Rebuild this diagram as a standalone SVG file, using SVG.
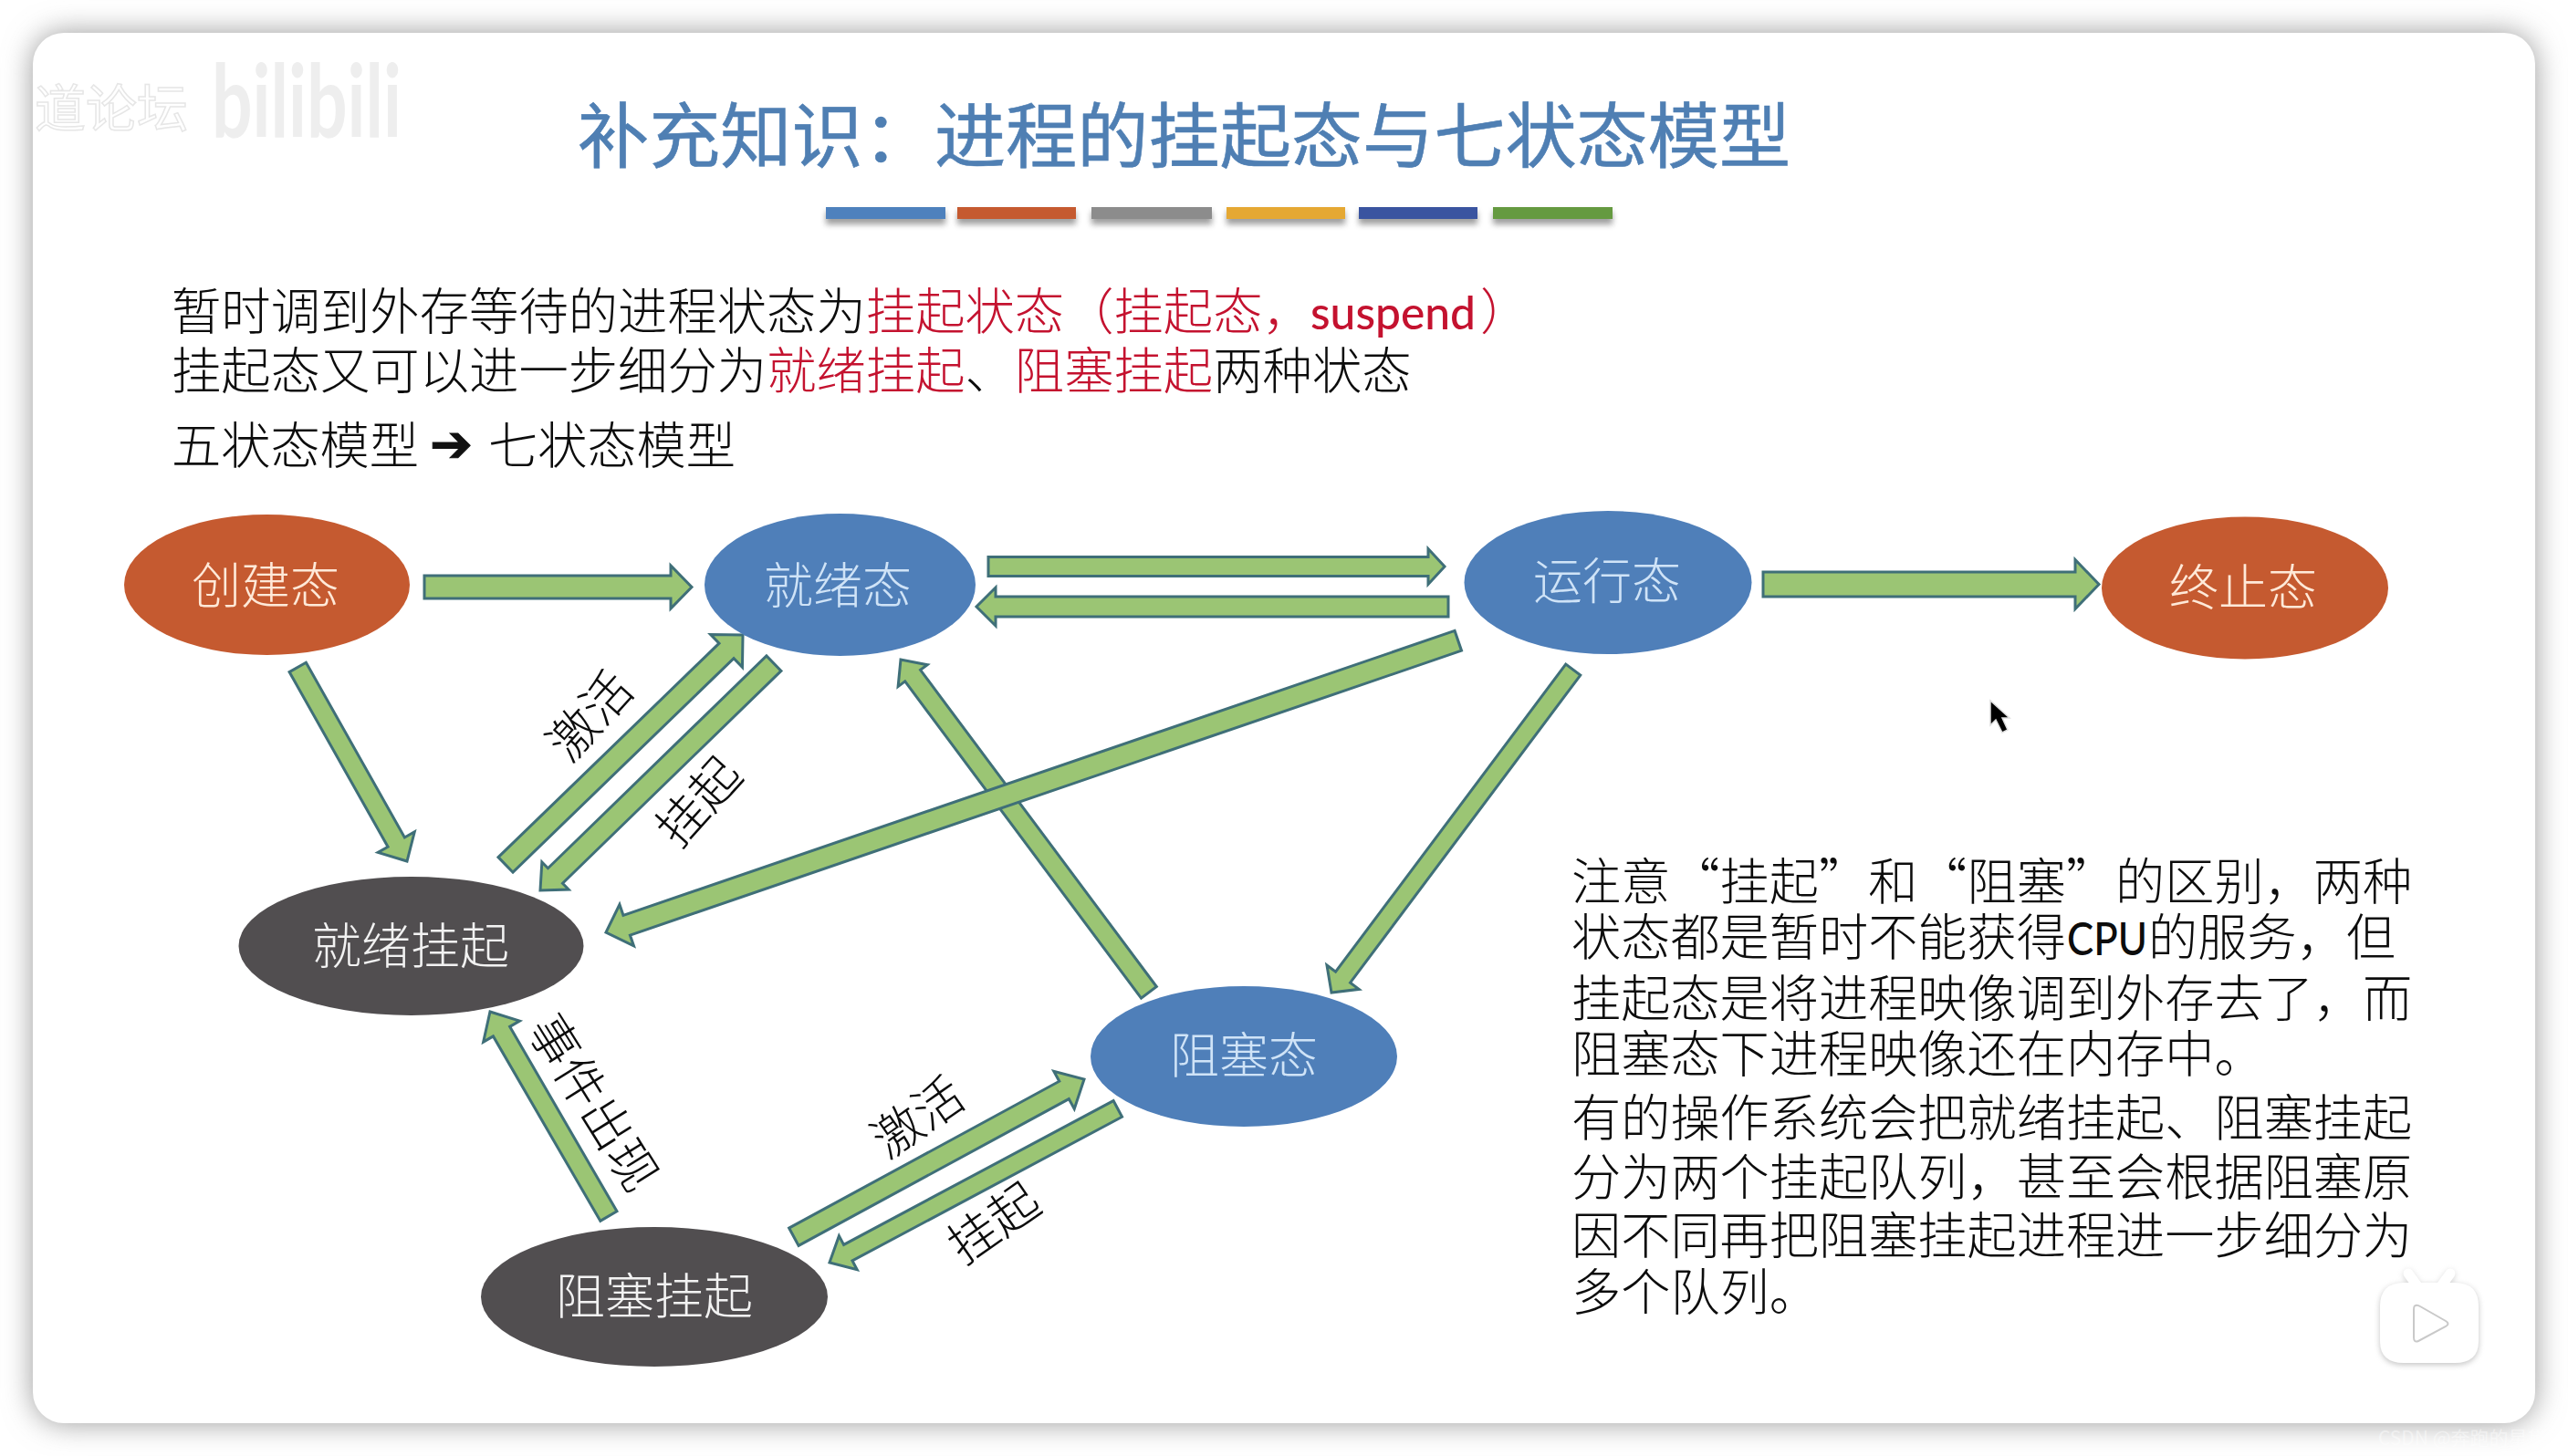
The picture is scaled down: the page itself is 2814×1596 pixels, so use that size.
<svg xmlns="http://www.w3.org/2000/svg" width="2814" height="1596" viewBox="0 0 2814 1596">
<style>
text{font-family:"Noto Sans CJK SC","Noto Sans",sans-serif}
.t{font-size:54.2px;fill:#0c0c0c;font-weight:300}
.r{fill:#c4122f}
.l{font-size:54px;text-anchor:middle;font-weight:300}
.lo{fill:#ffe9d8}
.lb{fill:#cfe3f7}
.ld{fill:#f2f2f2}
.a{fill:#9bc574;stroke:#3f6f78;stroke-width:3}
.e{font-size:54px;fill:#0c0c0c;text-anchor:middle;font-weight:300}
.lat{font-family:Lato,"Noto Sans",sans-serif}
</style>
<defs>
<filter id="card" x="-5%" y="-8%" width="110%" height="116%"><feGaussianBlur stdDeviation="16"/></filter>
<filter id="sh" x="-20%" y="-100%" width="140%" height="400%"><feGaussianBlur stdDeviation="3"/></filter>
<filter id="tv" x="-20%" y="-20%" width="140%" height="140%"><feGaussianBlur stdDeviation="3"/></filter>
</defs>
<rect width="2814" height="1596" fill="#fff"/>
<rect x="36" y="36" width="2742" height="1524" rx="34" fill="#9a9a9a" filter="url(#card)"/>
<rect x="36" y="36" width="2742" height="1524" rx="34" fill="#fff"/>
<text x="2606" y="1584" font-size="21" fill="#fff" fill-opacity=".45">CSDN @奔跑的星黛露</text>
<g id="watermark" fill="#eeeeee">
<text x="38" y="139" font-size="56" fill="#fff" stroke="#e6e6e6" stroke-width="1.5">道论坛</text>
<text x="232" y="151" font-size="112" font-weight="700" class="lat" textLength="208" lengthAdjust="spacingAndGlyphs">bilibili</text>
</g>
<g id="title">
<text x="633" y="178" font-size="78.2" fill="#4f7fb3" stroke="#4f7fb3" stroke-width=".6">补充知识：进程的挂起态与七状态模型</text>
<g filter="url(#sh)" fill="#777" opacity=".7">
<rect x="905" y="232" width="131" height="14"/><rect x="1049" y="232" width="130" height="14"/><rect x="1196" y="232" width="132" height="14"/><rect x="1344" y="232" width="130" height="14"/><rect x="1489" y="232" width="130" height="14"/><rect x="1636" y="232" width="131" height="14"/>
</g>
<rect x="905" y="227" width="131" height="13" fill="#4e81bd"/>
<rect x="1049" y="227" width="130" height="13" fill="#c55a30"/>
<rect x="1196" y="227" width="132" height="13" fill="#8c8c8c"/>
<rect x="1344" y="227" width="130" height="13" fill="#e5a833"/>
<rect x="1489" y="227" width="130" height="13" fill="#3a54a0"/>
<rect x="1636" y="227" width="131" height="13" fill="#659a40"/>
</g>
<g id="intro">
<text class="t" x="188" y="361" style="font-size:54.35px">暂时调到外存等待的进程状态为<tspan class="r">挂起状态（挂起态，</tspan></text>
<text class="t r lat" x="1436" y="361" style="font-size:50px;font-family:Lato,sans-serif;font-weight:500" textLength="181" lengthAdjust="spacingAndGlyphs">suspend</text>
<text class="t r" x="1622" y="361">）</text>
<text class="t" x="188" y="426" style="font-size:54.35px">挂起态又可以进一步细分为<tspan class="r">就绪挂起</tspan>、<tspan class="r">阻塞挂起</tspan>两种状态</text>
<text class="t" x="188" y="508">五状态模型</text>
<text x="471" y="506" font-size="56" fill="#111" stroke="#111" stroke-width="1" style="font-family:'DejaVu Sans',sans-serif">➔</text>
<text class="t" x="535" y="508">七状态模型</text>
</g>
<g id="connectors">
<polygon class="a" transform="translate(758,643.5) rotate(0)" points="-293,-12.5 -23,-12.5 -23,-23.5 0,0 -23,23.5 -23,12.5 -293,12.5"/>
<polygon class="a" transform="translate(446,944) rotate(60.6)" points="-244,-10.5 -24,-10.5 -24,-23 0,0 -24,23 -24,10.5 -244,10.5"/>
<polygon class="a" transform="translate(814,696) rotate(-44.1)" points="-362,-11.5 -25,-11.5 -25,-25 0,0 -25,25 -25,11.5 -362,11.5"/>
<polygon class="a" transform="translate(592,976) rotate(135.8)" points="-357,-11.5 -23,-11.5 -23,-21 0,0 -23,21 -23,11.5 -357,11.5"/>
<polygon class="a" transform="translate(987,723) rotate(-126.7)" points="-455,-10.5 -22,-10.5 -22,-20 0,0 -22,20 -22,10.5 -455,10.5"/>
<polygon class="a" transform="translate(664,1022) rotate(161.1)" points="-987,-11.5 -24,-11.5 -24,-24 0,0 -24,24 -24,11.5 -987,11.5"/>
<polygon class="a" transform="translate(1459,1088) rotate(126.8)" points="-442,-10 -21,-10 -21,-22 0,0 -21,22 -21,10 -442,10"/>
<polygon class="a" transform="translate(1583,621) rotate(0)" points="-500,-10.5 -18,-10.5 -18,-19.5 0,0 -18,19.5 -18,10.5 -500,10.5"/>
<polygon class="a" transform="translate(1070,665) rotate(180)" points="-517,-11 -21,-11 -21,-21 0,0 -21,21 -21,11 -517,11"/>
<polygon class="a" transform="translate(2300,640.5) rotate(0)" points="-368,-13.5 -26,-13.5 -26,-27 0,0 -26,27 -26,13.5 -368,13.5"/>
<polygon class="a" transform="translate(537,1109) rotate(-120.1)" points="-259,-10.5 -25,-10.5 -25,-23 0,0 -25,23 -25,10.5 -259,10.5"/>
<polygon class="a" transform="translate(1188,1183) rotate(-28.5)" points="-362,-11 -25,-11 -25,-23.5 0,0 -25,23.5 -25,11 -362,11"/>
<polygon class="a" transform="translate(909,1384) rotate(151.9)" points="-358,-10 -23,-10 -23,-21 0,0 -23,21 -23,10 -358,10"/>
<text class="e" transform="translate(647,785) rotate(-48)" y="19">激活</text>
<text class="e" transform="translate(766,879) rotate(-48)" y="19">挂起</text>
<text class="e" transform="translate(650,1209) rotate(58)" y="19">事件出现</text>
<text class="e" transform="translate(1006,1225) rotate(-35)" y="19">激活</text>
<text class="e" transform="translate(1089,1341) rotate(-35)" y="19">挂起</text>
</g>
<g id="node-create"><ellipse cx="292.5" cy="641" rx="156.5" ry="77" fill="#c55a30"/><text class="l lo" x="291" y="662">创建态</text></g>
<g id="node-ready"><ellipse cx="920.5" cy="641" rx="148.5" ry="78" fill="#4f7fb9"/><text class="l lb" x="918" y="662">就绪态</text></g>
<g id="node-running"><ellipse cx="1762" cy="638.5" rx="157.5" ry="78.5" fill="#4f7fb9"/><text class="l lb" x="1761" y="657">运行态</text></g>
<g id="node-terminated"><ellipse cx="2460" cy="644.5" rx="157" ry="78" fill="#c55a30"/><text class="l lo" x="2458" y="664">终止态</text></g>
<g id="node-ready-suspend"><ellipse cx="450.5" cy="1037" rx="189" ry="76" fill="#514e50"/><text class="l ld" x="450" y="1057">就绪挂起</text></g>
<g id="node-blocked"><ellipse cx="1363" cy="1158" rx="168" ry="77" fill="#4f7fb9"/><text class="l lb" x="1363" y="1177">阻塞态</text></g>
<g id="node-blocked-suspend"><ellipse cx="717" cy="1421.5" rx="190" ry="76.5" fill="#514e50"/><text class="l ld" x="717" y="1441">阻塞挂起</text></g>
<g id="note">
<text class="t" x="1722" y="986">注意“挂起”和“阻塞”的区别，两种</text>
<text class="t" x="1722" y="1047">状态都是暂时不能获得</text>
<text class="t lat" x="2265" y="1047" style="font-size:50px;font-family:Lato,sans-serif;font-weight:500" textLength="88" lengthAdjust="spacingAndGlyphs">CPU</text>
<text class="t" x="2354" y="1047">的服务，但</text>
<text class="t" x="1722" y="1114">挂起态是将进程映像调到外存去了，而</text>
<text class="t" x="1722" y="1175">阻塞态下进程映像还在内存中。</text>
<text class="t" x="1722" y="1245">有的操作系统会把就绪挂起、阻塞挂起</text>
<text class="t" x="1722" y="1310">分为两个挂起队列，甚至会根据阻塞原</text>
<text class="t" x="1722" y="1374">因不同再把阻塞挂起进程进一步细分为</text>
<text class="t" x="1722" y="1436">多个队列。</text>
</g>
<g id="cursor"><polygon points="2181,768 2181,795 2187,789 2194,803 2200,800 2194,787 2202,787" fill="#000" stroke="#ddd" stroke-width="1.5"/></g>
<g id="tv-logo">
<g filter="url(#tv)" opacity=".5" transform="translate(0,2)">
<path d="M2634,1406 H2690 Q2716,1406 2716,1432 V1470 Q2716,1494 2690,1494 H2634 Q2608,1494 2608,1470 V1432 Q2608,1406 2634,1406 Z" fill="#888"/>
<path d="M2639,1396 L2650,1411 M2685,1396 L2674,1411" stroke="#aaa" stroke-width="11" stroke-linecap="round"/>
</g>
<path d="M2639,1396 L2650,1411 M2685,1396 L2674,1411" stroke="#fff" stroke-width="11" stroke-linecap="round"/>
<path d="M2634,1406 H2690 Q2716,1406 2716,1432 V1470 Q2716,1494 2690,1494 H2634 Q2608,1494 2608,1470 V1432 Q2608,1406 2634,1406 Z" fill="#fff"/>
<path d="M2647,1431 Q2645,1431 2645,1436 V1466 Q2645,1472 2650,1470 L2680,1454 Q2685,1451 2680,1448 L2652,1432 Q2649,1430 2647,1431 Z" fill="#fff" stroke="#c9c9c9" stroke-width="2"/>
</g>
</svg>
